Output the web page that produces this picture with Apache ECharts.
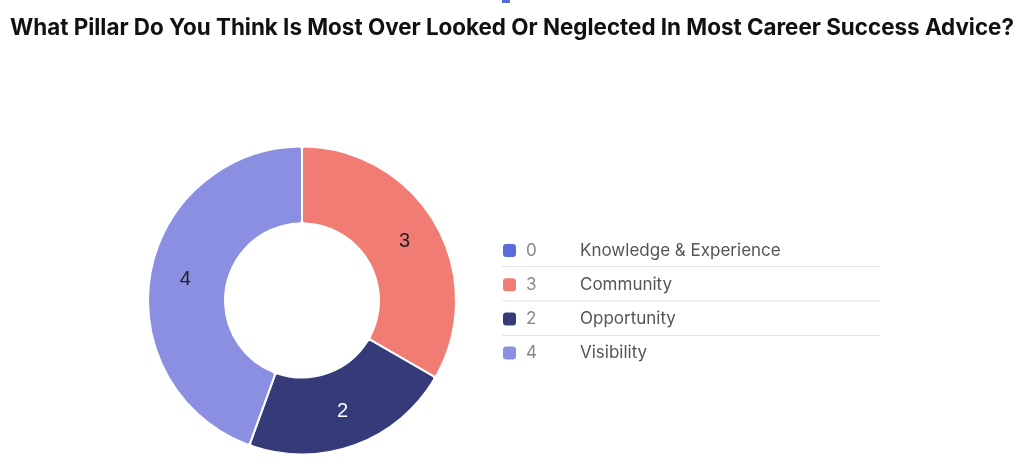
<!DOCTYPE html>
<html><head><meta charset="utf-8">
<script src="https://cdn.jsdelivr.net/npm/echarts@6/dist/echarts.min.js"></script>
<style>html,body{margin:0;padding:0;background:#fff}#c{width:1024px;height:470px}</style>
</head><body><div id="c"></div>
<script>
const titleText = "What Pillar Do You Think Is Most Over Looked Or Neglected In Most Career Success Advice?";
const categories = ["Knowledge & Experience", "Community", "Opportunity", "Visibility"];
const values = [0, 3, 2, 4];
const colors = ["#5a6bdc", "#f07c74", "#343b78", "#8b8fe2"];
const labelColors = ["#222", "#222", "#ffffff", "#222"];

const chart = echarts.init(document.getElementById('c'), null, {renderer: 'canvas'});
const lineYs = [266.5, 301, 335.5];
chart.setOption({
  animation: false,
  title: {
    text: titleText, left: 'center', top: 12,
    textStyle: {fontFamily: 'Inter', fontWeight: 'bold', fontSize: 22.4, color: '#111'}
  },
  legend: {
    orient: 'vertical', left: 503, top: 242, padding: 0,
    icon: 'roundRect', itemWidth: 13, itemHeight: 13, itemGap: 17.2,
    itemStyle: {borderWidth: 0},
    selectedMode: false,
    data: categories,
    formatter: name => '{v|' + values[categories.indexOf(name)] + '}{n|' + name + '}',
    textStyle: {
      fontFamily: 'Inter', fontSize: 17, color: '#555',
      rich: {
        v: {width: 54, fontFamily: 'Inter', fontSize: 17, color: '#888', padding: [0,0,0,5]},
        n: {fontFamily: 'Inter', fontSize: 17, color: '#555'}
      }
    }
  },
  graphic: lineYs.map(y => ({
    type: 'line', silent: true,
    shape: {x1: 502, y1: y, x2: 880, y2: y},
    style: {stroke: '#e4e4e4', lineWidth: 1}
  })).concat([{
    type: 'rect', silent: true, shape: {x: 502, y: 0, width: 8, height: 3},
    style: {fill: '#5a6bdc'}
  }]),
  series: [{
    type: 'pie',
    center: [302, 300.5], radius: [77, 154],
    startAngle: 90, clockwise: true,
    avoidLabelOverlap: false,
    itemStyle: {borderColor: '#fff', borderWidth: 2, borderRadius: 3},
    label: {
      show: true, position: 'inside', fontFamily: 'Liberation Sans', fontSize: 20,
      formatter: p => p.value === 0 ? '' : String(p.value)
    },
    labelLine: {show: false},
    emphasis: {disabled: true},
    data: categories.map((c, i) => ({
      name: c, value: values[i],
      itemStyle: {color: colors[i]},
      label: {color: labelColors[i]}
    }))
  }]
});
</script></body></html>
